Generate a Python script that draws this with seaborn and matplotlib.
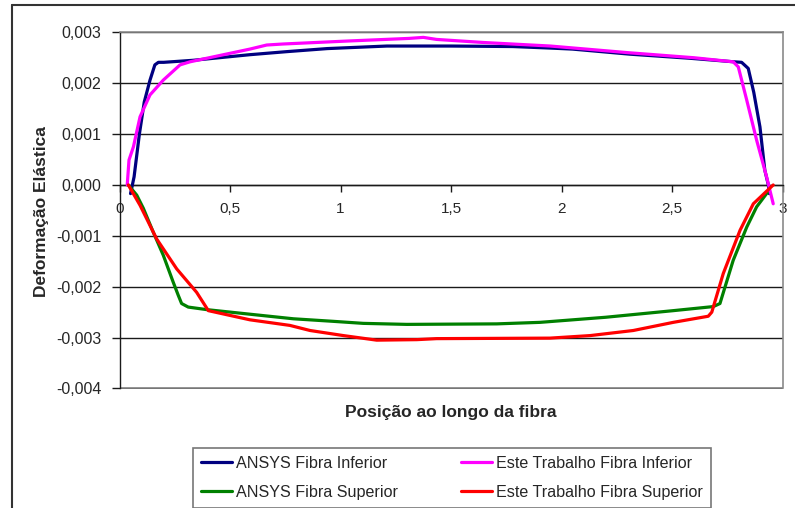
import numpy as np
import pandas as pd
import matplotlib
matplotlib.use("Agg")
import matplotlib.pyplot as plt
from matplotlib.lines import Line2D
import seaborn as sns

# Strain along the fibre: ANSYS results vs. this work, lower and upper fibres
ansys_inf_x = [0.050, 0.066, 0.090, 0.112, 0.138, 0.160, 0.176, 0.200, 0.334, 0.590, 0.757, 0.940,
               1.210, 1.500, 1.780, 1.950, 2.050, 2.310, 2.580, 2.780, 2.815, 2.845, 2.870, 2.898,
               2.920, 2.936, 2.940]
ansys_inf_y = [-0.00017, 0.00016, 0.00100, 0.00163, 0.00206, 0.00236, 0.00241, 0.00241, 0.00245,
               0.00256, 0.00262, 0.00268, 0.00273, 0.00273, 0.00272, 0.00269, 0.00267, 0.00257,
               0.00249, 0.00242, 0.00241, 0.00229, 0.00182, 0.00114, 0.00029, 0.00000, -0.00017]

este_inf_x = [0.035, 0.043, 0.063, 0.093, 0.138, 0.198, 0.274, 0.319, 0.590, 0.666, 0.740, 1.040,
              1.310, 1.375, 1.435, 1.646, 1.950, 2.300, 2.600, 2.777, 2.800, 2.838, 2.883, 2.928,
              2.958]
este_inf_y = [0.00000, 0.00049, 0.00075, 0.00134, 0.00177, 0.00206, 0.00236, 0.00242, 0.00267,
              0.00275, 0.00277, 0.00283, 0.00288, 0.00290, 0.00286, 0.00280, 0.00273, 0.00260,
              0.00250, 0.00242, 0.00232, 0.00167, 0.00088, 0.00016, -0.00037]

ansys_sup_x = [0.040, 0.078, 0.108, 0.153, 0.198, 0.243, 0.266, 0.281, 0.311, 0.395, 0.590, 0.787,
               0.967, 1.103, 1.300, 1.707, 1.903, 2.200, 2.506, 2.687, 2.717, 2.777, 2.838, 2.883,
               2.940]
ansys_sup_y = [0.00000, -0.00020, -0.00046, -0.00093, -0.00138, -0.00191, -0.00217, -0.00233,
               -0.00240, -0.00245, -0.00254, -0.00263, -0.00268, -0.00272, -0.00274, -0.00273,
               -0.00270, -0.00260, -0.00247, -0.00239, -0.00233, -0.00148, -0.00083, -0.00043,
               -0.00010]

este_sup_x = [0.040, 0.093, 0.168, 0.259, 0.349, 0.402, 0.590, 0.771, 0.862, 1.013, 1.164, 1.345,
              1.435, 1.948, 2.130, 2.325, 2.506, 2.664, 2.680, 2.732, 2.808, 2.868, 2.958]
este_sup_y = [0.00000, -0.00040, -0.00106, -0.00165, -0.00211, -0.00247, -0.00265, -0.00276,
              -0.00286, -0.00296, -0.00305, -0.00304, -0.00302, -0.00301, -0.00296, -0.00286,
              -0.00270, -0.00258, -0.00250, -0.00174, -0.00089, -0.00037, 0.00000]

series_names = ["ANSYS Fibra Inferior", "ANSYS Fibra Superior",
                "Este Trabalho Fibra Inferior", "Este Trabalho Fibra Superior"]
series_colors = ["#000080", "#008000", "#FF00FF", "#FF0000"]

x_ticks = [0, 0.5, 1, 1.5, 2, 2.5, 3]
x_tick_labels = ["0", "0,5", "1", "1,5", "2", "2,5", "3"]
y_ticks = [-0.004, -0.003, -0.002, -0.001, 0.0, 0.001, 0.002, 0.003]
y_tick_labels = ["-0,004", "-0,003", "-0,002", "-0,001", "0,000", "0,001", "0,002", "0,003"]

sns.set_theme(style="white")
plt.rcParams["font.family"] = ["Liberation Sans", "DejaVu Sans"]

W, H = 795, 508
fig = plt.figure(figsize=(W / 100, H / 100), dpi=100)
ax = fig.add_axes([119.5 / W, 1 - 388.5 / H, (782.5 - 119.5) / W, (388.5 - 32.3) / H])

data = [(ansys_inf_x, ansys_inf_y), (ansys_sup_x, ansys_sup_y),
        (este_inf_x, este_inf_y), (este_sup_x, este_sup_y)]
draw_order = [0, 2, 1, 3]
for i in draw_order:
    xs, ys = data[i]
    df = pd.DataFrame({"x": xs, "y": ys})
    sns.lineplot(data=df, x="x", y="y", sort=False, estimator=None, ax=ax,
                 color=series_colors[i], linewidth=2.3, label=series_names[i],
                 legend=False, zorder=3 + i)

ax.set_xlim(0, 3)
ax.set_ylim(-0.004, 0.003)
ax.set_xticks(x_ticks)
ax.set_xticklabels(x_tick_labels, fontsize=11.5)
ax.set_yticks(y_ticks)
ax.set_yticklabels(y_tick_labels, fontsize=11.5)

ax.yaxis.grid(True, color="#1a1a1a", linewidth=1.0)
ax.xaxis.grid(False)
ax.set_axisbelow(True)

ax.spines["bottom"].set_position(("data", 0))
ax.spines["bottom"].set_color("#1a1a1a")
ax.spines["left"].set_color("#1a1a1a")
ax.spines["left"].set_linewidth(1.0)
ax.spines["bottom"].set_linewidth(1.0)
for s in ("top", "right"):
    ax.spines[s].set_color("#8a8a8a")
    ax.spines[s].set_linewidth(1.2)
ax.axhline(-0.004, color="#8a8a8a", linewidth=1.2, zorder=2)

ax.tick_params(axis="y", direction="out", length=6, width=1, color="#1a1a1a", pad=7, left=True)
ax.tick_params(axis="x", direction="out", length=5, width=1, color="#1a1a1a", pad=7, bottom=True)

ax.set_xlabel("")
ax.set_ylabel("")
fig.text(451 / W, 1 - 413 / H, "Posição ao longo da fibra", ha="center", va="center",
         fontsize=12.5, fontweight="bold")
fig.text(42 / W, 1 - 212 / H, "Deformação Elástica", ha="center", va="center",
         rotation=90, fontsize=12.5, fontweight="bold")

handles = [Line2D([0], [0], color=c, linewidth=2.3) for c in series_colors]
leg = fig.legend(handles, series_names, ncol=2, loc="upper left",
                 bbox_to_anchor=(193 / W, 1 - 448 / H), fontsize=11.6, frameon=True,
                 fancybox=False, edgecolor="#555555", handlelength=1.93,
                 handletextpad=0.25, columnspacing=3.9, labelspacing=0.85,
                 borderpad=0.5, borderaxespad=0.0)
leg.get_frame().set_linewidth(1.2)

# outer chart border
fig.add_artist(Line2D([12 / W, 12 / W], [0, 1 - 5 / H], color="#333333", linewidth=1.5,
                      transform=fig.transFigure))
fig.add_artist(Line2D([12 / W, 1], [1 - 5 / H, 1 - 5 / H], color="#333333", linewidth=1.5,
                      transform=fig.transFigure))

fig.savefig("out.png", dpi=100, facecolor="white")
